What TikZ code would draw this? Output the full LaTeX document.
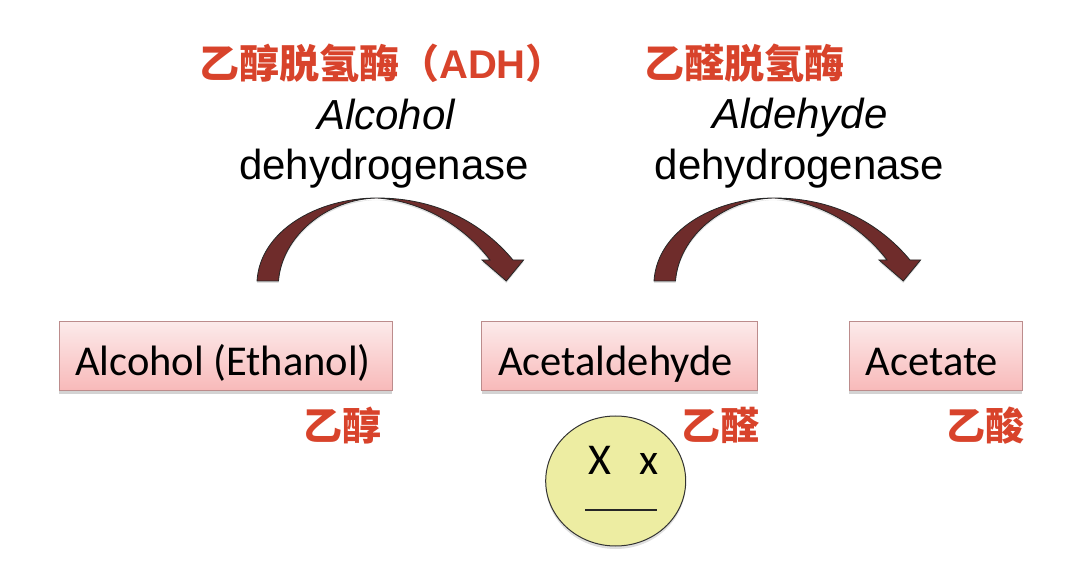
\documentclass[tikz,border=0pt]{standalone}
\usepackage{fontspec}
\setmainfont{Liberation Sans}
\newfontfamily\cjk{Noto Sans CJK SC}
\newfontfamily\boxfont{Carlito}
\usetikzlibrary{shadows,shapes.geometric}
\definecolor{rotlabel}{HTML}{D8432B}
\definecolor{pfeilrot}{HTML}{6F2C2B}
\definecolor{rosaoben}{HTML}{FCEAEA}
\definecolor{rosaunten}{HTML}{F8B9B9}
\definecolor{rosarand}{HTML}{BC8C8C}
\definecolor{gesicht}{HTML}{EDEDA2}

\begin{document}
\begin{tikzpicture}[x=1pt,y=-1pt,
      stoff/.style={rectangle, draw=rosarand, line width=1pt, top color=rosaoben, bottom color=rosaunten, text height=54pt, text depth=15pt, inner sep=0pt, font=\boxfont\fontsize{42.5}{50}\selectfont, drop shadow={shadow xshift=0pt, shadow yshift=-3pt, opacity=0.35}},
      rotname/.style={text=rotlabel, anchor=base west, inner sep=0pt, font=\cjk\bfseries\fontsize{40}{48}\selectfont},
      rotklein/.style={rotname, font=\cjk\bfseries\fontsize{39}{46}\selectfont},
      enzym/.style={anchor=base, inner sep=0pt, font=\fontsize{42}{50}\selectfont},
      auge/.style={inner sep=0pt, anchor=base, font=\boxfont\fontsize{44}{50}\selectfont},
      blockpfeil/.pic={
        \draw[fill=pfeilrot, draw=black!85, line width=0.8pt, drop shadow={shadow xshift=0pt, shadow yshift=-2pt, opacity=0.25}] (0,0) .. controls (3,-50) and (60,-83) .. (120,-83) .. controls (180,-83) and (225,-58) .. (256,-21) -- (266.6,-21) -- (249.3,0) -- (225,-21) -- (233,-21) .. controls (207,-55) and (165,-80) .. (120,-83) .. controls (70,-82) and (25,-45) .. (21.5,0) -- cycle;
      }]

\useasboundingbox (0,0) rectangle (1080,585);

\node[rotname] (adh) at (199,79) {乙醇脱氢酶（{\rmfamily ADH}）};
\node[enzym, font=\itshape\fontsize{42}{50}\selectfont] (alcohol) at (386,129.5) {Alcohol};
\node[enzym] (dehyd1) at (384,179.5) {dehydrogenase};
\node[rotname] (aldh) at (644,79) {乙醛脱氢酶};
\node[enzym, font=\itshape\fontsize{42}{50}\selectfont] (aldehyde) at (800,129) {Aldehyde};
\node[enzym] (dehyd2) at (799.5,179.5) {dehydrogenase};

\node[stoff, minimum width=333pt] (ethanol) at (225.5,356.5) {Alcohol (Ethanol)\hspace*{5pt}};
\node[stoff, minimum width=276pt] (acetal) at (619.5,356.5) {Acetaldehyde\hspace*{8pt}};
\node[stoff, minimum width=173pt] (acetat) at (935.5,356.5) {Acetate\hspace*{7pt}};

\node[rotklein] (yichun) at (303,441) {乙醇};
\node[rotklein] (yiquan) at (681,441) {乙醛};
\node[rotklein] (yisuan) at (946,441) {乙酸};

\coordinate (start1) at (257,281);
\coordinate (start2) at (654,281);
\pic at (start1) {blockpfeil};
\pic at (start2) {blockpfeil};

\node[ellipse, draw=black!80, line width=1pt, fill=gesicht, minimum width=140pt, minimum height=130pt, inner sep=0pt, drop shadow={shadow xshift=0pt, shadow yshift=-3pt, opacity=0.25}] (kopf) at (615.7,481) {};
\node[auge] (augeL) at (600,475) {X};
\node[auge] (augeR) at (649,475) {x};
\coordinate (mund1) at (585,510);
\coordinate (mund2) at (657,510);
\draw[line width=2.4pt, black!85] (mund1) -- (mund2);

\end{tikzpicture}
\end{document}
